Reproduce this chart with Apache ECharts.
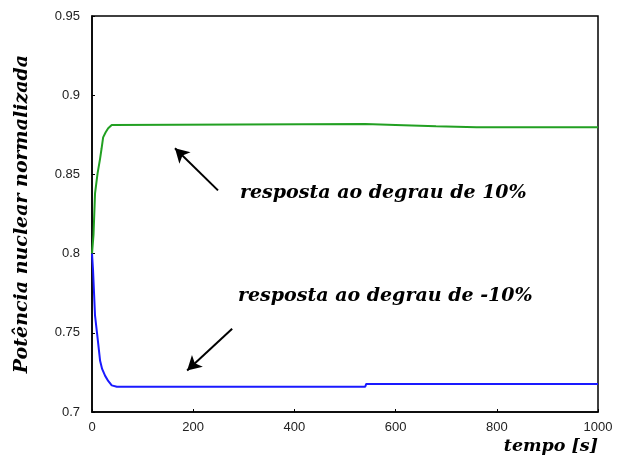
<!DOCTYPE html>
<html><head><meta charset="utf-8">
<script src="https://cdn.jsdelivr.net/npm/echarts@6/dist/echarts.min.js"></script>
<style>html,body{margin:0;padding:0;background:#fff}#c{width:632px;height:465px}</style>
</head><body><div id="c"></div>
<script>
var xTicks = [0, 200, 400, 600, 800, 1000];
var yTicks = [0.7, 0.75, 0.8, 0.85, 0.9, 0.95];
var upTime  = [0, 3, 6, 11, 16, 19, 22, 27, 32, 39, 42, 540, 600, 680, 760, 1000];
var upValue = [0.800, 0.812, 0.838, 0.8506, 0.860, 0.8665, 0.8734, 0.8766, 0.8791, 0.8812, 0.8818, 0.8818, 0.8812, 0.8804, 0.8797, 0.8797];
var downTime  = [0, 2, 6, 11, 16, 20, 26, 32, 39, 49, 540, 542, 1000];
var downValue = [0.800, 0.790, 0.7608, 0.7468, 0.7323, 0.7272, 0.7228, 0.7196, 0.7168, 0.716, 0.716, 0.7177, 0.7177];
var label1 = 'resposta ao degrau de 10%';
var label2 = 'resposta ao degrau de -10%';
var arrow1 = [[249, 0.8399], [164, 0.8665]];
var arrow2 = [[277, 0.7525], [188, 0.7262]];

function pairs(t, v){ return t.map(function(x,i){ return [x, v[i]]; }); }
var chart = echarts.init(document.getElementById('c'));
var serifFont = '"DejaVu Serif", "Liberation Serif", serif';
chart.setOption({
  animation: false,
  backgroundColor: '#fff',
  grid: { left: 92, right: 34, top: 16, bottom: 53, show: true, borderColor: '#000', borderWidth: 1.5 },
  xAxis: {
    type: 'value', min: 0, max: 1000, interval: 200,
    name: 'tempo [s]', nameLocation: 'end', nameGap: 0,
    nameTextStyle: { fontFamily: serifFont, fontStyle: 'italic', fontWeight: 'bold', fontSize: 17.5, color: '#000', align: 'right', verticalAlign: 'top', padding: [25, 0, 0, 0] },
    axisLine: { lineStyle: { color: '#000', width: 1.5 } },
    axisTick: { inside: true, length: 3, lineStyle: { color: '#000' } },
    axisLabel: { color: '#222', fontFamily: 'Liberation Sans, Arial, sans-serif', fontSize: 13, margin: 9,
      formatter: function(v){ return String(v); } },
    splitLine: { show: false }
  },
  yAxis: {
    type: 'value', min: 0.7, max: 0.95, interval: 0.05,
    name: 'Potência nuclear normalizada', nameLocation: 'middle', nameGap: 60, nameRotate: 90,
    nameTextStyle: { fontFamily: serifFont, fontStyle: 'italic', fontWeight: 'bold', fontSize: 19, color: '#000' },
    axisLine: { lineStyle: { color: '#000', width: 1.5 } },
    axisTick: { inside: true, length: 3, lineStyle: { color: '#000' } },
    axisLabel: { color: '#222', fontFamily: 'Liberation Sans, Arial, sans-serif', fontSize: 13, margin: 12,
      formatter: function(v){ return String(Math.round(v*100)/100); } },
    splitLine: { show: false }
  },
  series: [
    { type: 'line', data: pairs(upTime, upValue), showSymbol: false, lineStyle: { color: '#22a022', width: 2 }, z: 3,
      markLine: { silent: true, symbol: ['none', 'arrow'], symbolSize: [12, 14],
        lineStyle: { color: '#000', width: 2, type: 'solid' }, label: { show: false },
        data: [[{ coord: arrow1[0] }, { coord: arrow1[1] }], [{ coord: arrow2[0] }, { coord: arrow2[1] }]] } },
    { type: 'line', data: pairs(downTime, downValue), showSymbol: false, lineStyle: { color: '#1a1aff', width: 2 }, z: 3 }
  ],
  graphic: [
    { type: 'text', left: 240, top: 184, style: { text: label1, font: 'italic bold 19px ' + serifFont, fill: '#000' } },
    { type: 'text', left: 238, top: 287, style: { text: label2, font: 'italic bold 19px ' + serifFont, fill: '#000' } }
  ]
});
</script></body></html>
